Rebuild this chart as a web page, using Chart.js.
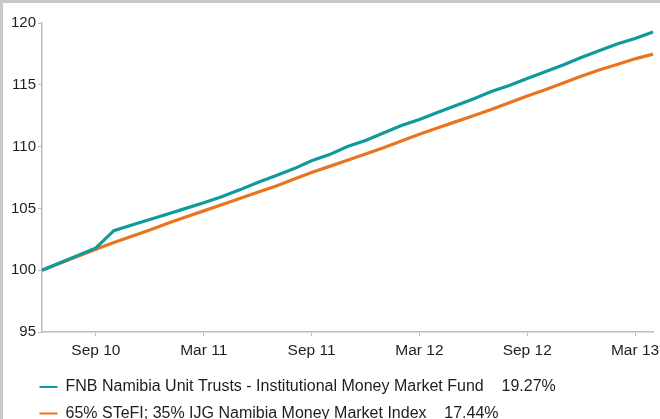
<!DOCTYPE html>
<html>
<head>
<meta charset="utf-8">
<script src="https://cdn.jsdelivr.net/npm/chart.js@4/dist/chart.umd.min.js"></script>
<style>
  html, body { margin: 0; padding: 0; background: #ffffff; }
  #wrap { position: relative; width: 660px; height: 419px; overflow: hidden; }
  #wrap canvas { position: absolute; left: 0; top: 0; }
  .bar { position: absolute; background: #c9c9c9; }
</style>
</head>
<body>
<div id="wrap">
  <canvas id="c" width="660" height="419"></canvas>
  <div class="bar" style="left:0;top:0;width:660px;height:3px;"></div>
  <div class="bar" style="left:0;top:0;width:3px;height:419px;"></div>
</div>
<script>
// Monthly categories (Jun 2010 .. Apr 2013)
const months = ['Jun 10','Jul 10','Aug 10','Sep 10','Oct 10','Nov 10','Dec 10',
  'Jan 11','Feb 11','Mar 11','Apr 11','May 11','Jun 11','Jul 11','Aug 11','Sep 11','Oct 11','Nov 11','Dec 11',
  'Jan 12','Feb 12','Mar 12','Apr 12','May 12','Jun 12','Jul 12','Aug 12','Sep 12','Oct 12','Nov 12','Dec 12',
  'Jan 13','Feb 13','Mar 13','Apr 13'];

// Tick labels shown on the x axis
const shownTicks = ['Sep 10','Mar 11','Sep 11','Mar 12','Sep 12','Mar 13'];

// Y axis tick values
const yTicks = [95, 100, 105, 110, 115, 120];

// Series
const seriesNames = ['FNB Namibia Unit Trusts - Institutional Money Market Fund',
                     '65% STeFI; 35% IJG Namibia Money Market Index'];
const seriesReturns = ['19.27%', '17.44%'];

const fundValues = [100.0, 100.6, 101.2, 101.8, 103.2, 103.65, 104.1,
  104.55, 105.0, 105.45, 105.95, 106.5, 107.1, 107.65, 108.2, 108.85, 109.35, 110.0, 110.5,
  111.1, 111.7, 112.2, 112.75, 113.3, 113.85, 114.45, 114.95, 115.5, 116.05, 116.6, 117.2,
  117.75, 118.3, 118.75, 119.27];

const indexValues = [100.0, 100.57, 101.13, 101.7, 102.25, 102.75, 103.25,
  103.8, 104.3, 104.8, 105.3, 105.8, 106.3, 106.8, 107.35, 107.9, 108.4, 108.9, 109.4,
  109.9, 110.45, 111.0, 111.5, 112.0, 112.5, 113.0, 113.55, 114.1, 114.6, 115.15, 115.7,
  116.2, 116.65, 117.1, 117.48];

const seriesValues = [fundValues, indexValues];
const seriesColors = ['#0f9a9c', '#ea7520'];

const FONT = "'Liberation Sans', Arial, sans-serif";
const TEXT = '#1e1e1e';
const AXIS = '#bdbdbd';

// shift the legend block so its rows start under the plot's left edge
const legendShift = {
  id: 'legendShift',
  afterLayout(chart) {
    const lg = chart.legend;
    if (lg) { lg.left += 29; lg.right += 29; }
  }
};

new Chart(document.getElementById('c'), {
  type: 'line',
  data: {
    labels: months,
    datasets: seriesValues.map((vals, i) => ({
      label: seriesNames[i] + '    ' + seriesReturns[i],
      data: vals,
      borderColor: seriesColors[i],
      backgroundColor: seriesColors[i],
      borderWidth: 3.2,
      pointRadius: 0,
      tension: 0,
      fill: false
    }))
  },
  plugins: [legendShift],
  options: {
    responsive: false,
    animation: false,
    devicePixelRatio: 1,
    layout: { padding: { top: 23, right: 7, left: 0, bottom: 0 } },
    plugins: {
      tooltip: { enabled: false },
      legend: {
        position: 'bottom',
        align: 'start',
        maxHeight: 50.5,
        labels: {
          font: { family: FONT, size: 16 },
          color: TEXT,
          padding: 10.5,
          usePointStyle: true,
          pointStyle: 'line',
          pointStyleWidth: 18,
          generateLabels: (chart) => chart.data.datasets.map((ds, i) => ({
            text: ds.label,
            fillStyle: ds.borderColor,
            strokeStyle: ds.borderColor,
            lineWidth: 2,
            pointStyle: 'line',
            hidden: false,
            datasetIndex: i,
            fontColor: TEXT
          }))
        }
      }
    },
    scales: {
      x: {
        type: 'category',
        offset: false,
        afterFit: (s) => { s.height = 36.5; },
        border: { display: true, color: AXIS, width: 1.5 },
        grid: {
          display: true,
          drawOnChartArea: false,
          drawTicks: true,
          tickLength: 4,
          tickColor: (ctx) => (shownTicks.includes(months[ctx.index]) ? AXIS : 'rgba(0,0,0,0)')
        },
        ticks: {
          autoSkip: false,
          maxRotation: 0,
          minRotation: 0,
          padding: 5,
          color: TEXT,
          font: { family: FONT, size: 15.5 },
          callback: function (value, index) {
            const l = months[index];
            return shownTicks.includes(l) ? l : '';
          }
        }
      },
      y: {
        min: yTicks[0],
        max: yTicks[yTicks.length - 1],
        afterFit: (s) => { s.width = 42; },
        afterBuildTicks: (s) => { s.ticks = yTicks.map(v => ({ value: v })); },
        border: { display: true, color: AXIS, width: 1.5 },
        grid: {
          display: true,
          drawOnChartArea: false,
          drawTicks: true,
          tickLength: 4,
          tickColor: AXIS
        },
        ticks: {
          padding: 2,
          color: TEXT,
          font: { family: FONT, size: 15 }
        }
      }
    }
  }
});
</script>
</body>
</html>
